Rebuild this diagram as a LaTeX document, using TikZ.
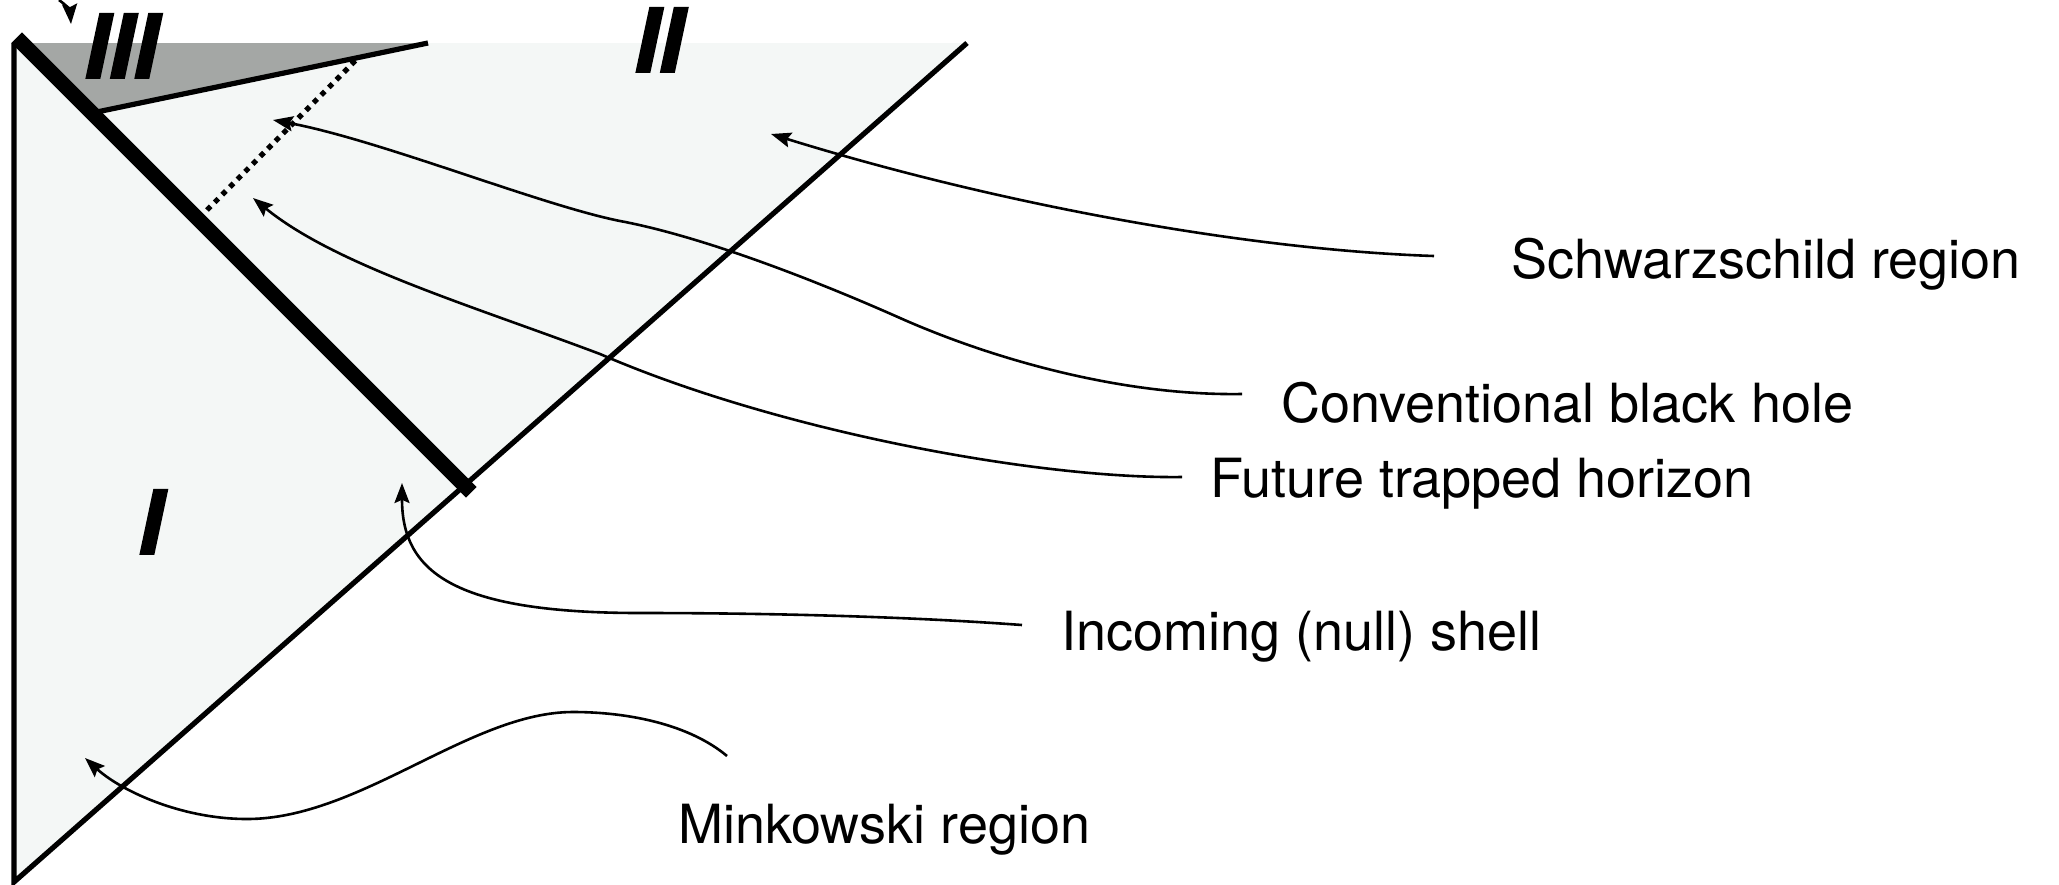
\documentclass[tikz,border=0pt]{standalone}
\usepackage{fontspec}
\setmainfont{TeX Gyre Heros}
\newfontfamily\numfont{TeX Gyre Heros Bold Italic}[FakeBold=2]
\usetikzlibrary{arrows.meta}
\definecolor{regionfill}{HTML}{F4F7F6}
\definecolor{trappedfill}{HTML}{A4A7A5}
\begin{document}
\begin{tikzpicture}[x=0.5pt,y=-0.5pt,
  boundary/.style={line width=2.6pt},
  shell/.style={line width=7.5pt, line cap=rect},
  horizon/.style={line width=2.6pt, dash pattern=on 2.6pt off 2.8pt},
  arw/.style={line width=1.3pt, -{Stealth[length=10pt,width=7.5pt,inset=1.6pt]}},
  lbl/.style={anchor=base west, inner sep=0pt, font=\fontsize{27}{32}\selectfont},
  numeral/.style={anchor=base west, inner sep=0pt, font=\fontsize{44}{50}\numfont}]
\useasboundingbox (0,0) rectangle (2059,884);

% corners of the diagram
\coordinate (A) at (14,43);
\coordinate (B) at (14,882);
\coordinate (C) at (967,43);
\coordinate (D) at (428,43);
\coordinate (E) at (92,113);
\coordinate (S0) at (22,43);
\coordinate (S1) at (466,487);
\coordinate (P0) at (207,210);
\coordinate (P1) at (358,58);

% regions
\fill[regionfill] (A) -- (C) -- (B) -- cycle;
\fill[trappedfill] (A) -- (D) -- (E) -- cycle;

% boundaries
\draw[boundary] (A) -- (B) -- (C);
\draw[boundary] (E) -- (D);
\draw[shell] (S0) -- (S1);
\draw[horizon] (P0) -- (P1);

% region numerals
\node[numeral] (rIII) at (84,78) {III};
\node[numeral] (rII) at (634,72) {II};
\node[numeral] (rI) at (138,554) {I};

% labels
\node[lbl] (sch) at (1511,278) {Schwarzschild region};
\node[lbl] (cbh) at (1281,422) {Conventional black hole};
\node[lbl] (fth) at (1210,497) {Future trapped horizon};
\node[lbl] (ins) at (1061,650) {Incoming (null) shell};
\node[lbl] (mkr) at (678,843) {Minkowski region};

% connector ends
\coordinate (schT) at (1434,256);
\coordinate (schH) at (771,134);
\coordinate (cbhT) at (1242,394);
\coordinate (cbhH) at (273,120);
\coordinate (fthT) at (1182,477);
\coordinate (fthH) at (253,198);
\coordinate (insT) at (1022,625);
\coordinate (insH) at (402,483);
\coordinate (mkrT) at (727,756);
\coordinate (mkrH) at (85,758);
\coordinate (topT) at (59,0);
\coordinate (topH) at (71,24);

% connectors
\draw[arw] (schT) .. controls (1250,250) and (1000,205) .. (schH);
\draw[arw] (cbhT) .. controls (1120,396) and (990,358) .. (900,318)
                  .. controls (810,278) and (700,236) .. (620,221)
                  .. controls (540,205) and (380,140) .. (cbhH);
\draw[arw] (fthT) .. controls (1040,479) and (780,432) .. (600,354)
                  .. controls (470,305) and (335,265) .. (fthH);
\draw[arw] (insT) .. controls (900,616) and (760,613) .. (640,613)
                  .. controls (450,613) and (402,570) .. (insH);
\draw[arw] (mkrT) .. controls (690,725) and (630,712) .. (573,712)
                  .. controls (470,712) and (360,819) .. (247,819)
                  .. controls (180,819) and (120,790) .. (mkrH);
\draw[arw] (topT) .. controls (66,5) and (70,10) .. (topH);
\end{tikzpicture}
\end{document}
